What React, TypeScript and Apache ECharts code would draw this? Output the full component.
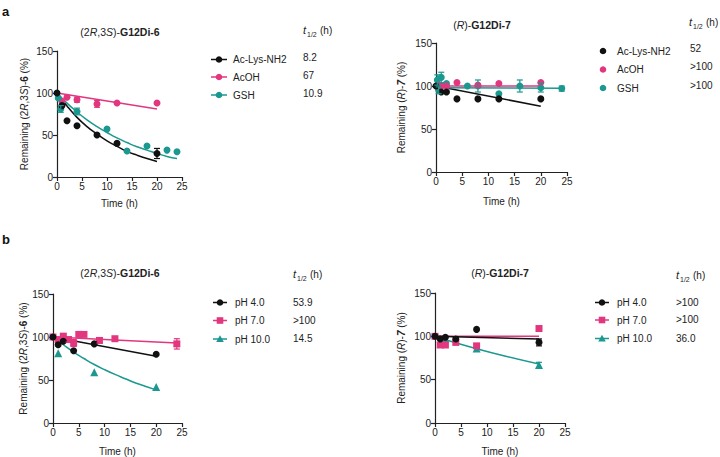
import React, { useEffect, useRef } from "react";
import * as echarts from "echarts";

const BLACK = "#111111";
const PINK = "#e2367f";
const TEAL = "#1b9890";
const FONT = "'Liberation Sans', Arial, sans-serif";

// ---------- Panel a, left: (2R,3S)-G12Di-6 ----------
const aLAcLysPts = [[0, 100], [1, 85], [2, 67], [4, 61], [8, 50], [12, 40], [20, 28]];
const aLAcLysErr = [[20, 28, 6]];
const aLAcLysFit = [[0, 100], [2, 84.5], [4, 71], [6, 60], [8, 51], [10, 43], [12, 36.5], [14, 30.5], [16, 26], [18, 22], [20, 18.5]];
const aLAcOHPts = [[1, 90], [2, 95], [4, 92], [8, 87], [12, 88], [20, 88]];
const aLAcOHErr = [[4, 92, 3], [8, 87, 4]];
const aLAcOHFit = [[0, 100], [20, 81]];
const aLGSHPts = [[0.25, 94], [0.75, 81], [4, 78], [10, 57], [14, 31], [18, 37], [22, 32], [24, 30]];
const aLGSHErr = [[0.75, 81, 4], [4, 78, 4]];
const aLGSHFit = [[0, 100], [2, 88], [4, 77.5], [6, 68], [8, 60], [10, 53], [12, 46.5], [14, 41], [16, 36], [18, 32], [20, 28], [22, 24.5], [24, 22]];

// ---------- Panel a, right: (R)-G12Di-7 ----------
const aRAcLysPts = [[0, 100], [1, 93], [2, 93], [4, 85], [8, 85], [12, 85], [20, 85]];
const aRAcLysFit = [[0, 100], [20, 76.5]];
const aRAcOHPts = [[0.5, 101], [1, 100], [2, 100], [4, 104], [8, 101], [12, 103], [20, 104]];
const aRAcOHFit = [[0.5, 100], [20, 100]];
const aRGSHPts = [[0.25, 107], [0.5, 95], [1, 110], [2, 103], [6, 100], [8, 100], [12, 91], [16, 100], [20, 98], [24, 97]];
const aRGSHErr = [[0.25, 107, 6], [0.5, 95, 4], [1, 110, 6], [8, 100, 7], [16, 100, 7], [20, 98, 5], [24, 97, 3]];
const aRGSHFit = [[0, 98], [24, 97.5]];

// ---------- Panel b, left: (2R,3S)-G12Di-6 ----------
const bLpH4Pts = [[0, 100], [1, 91], [2, 95], [4, 84], [8, 92], [20, 80]];
const bLpH4Fit = [[0, 100], [20, 77.5]];
const bLpH7Pts = [[0, 100], [1, 97], [2, 101], [3, 97], [4, 93], [5, 103], [6, 103], [9, 96], [12, 98], [24, 92]];
const bLpH7Err = [[3, 97, 3], [4, 93, 4], [9, 96, 3], [24, 92, 6]];
const bLpH7Fit = [[0, 100], [24, 93]];
const bLpH10Pts = [[1, 81], [8, 59], [20, 42]];
const bLpH10Fit = [[0, 100], [2, 91], [4, 82.5], [6, 75], [8, 68], [10, 62], [12, 56.5], [14, 51.5], [16, 46.5], [18, 42.5], [20, 38.5]];

// ---------- Panel b, right: (R)-G12Di-7 ----------
const bRpH4Pts = [[0, 100], [1, 97], [2, 99], [4, 97], [8, 108], [20, 93]];
const bRpH4Err = [[4, 97, 2], [20, 93, 4]];
const bRpH4Fit = [[0, 100], [20, 97]];
const bRpH7Pts = [[0, 100], [1, 90], [2, 90], [4, 93], [8, 89], [20, 109]];
const bRpH7Fit = [[0, 100], [20, 100]];
const bRpH10Pts = [[2, 97], [8, 86], [20, 67]];
const bRpH10Err = [[20, 67, 3]];
const bRpH10Fit = [[2, 96], [8, 85.7], [14, 76.4], [20, 68]];

// legends / half-lives
const aLabels = ["Ac-Lys-NH2", "AcOH", "GSH"];
const aLeftHalfLives = ["8.2", "67", "10.9"];
const aRightHalfLives = ["52", ">100", ">100"];
const bLabels = ["pH 4.0", "pH 7.0", "pH 10.0"];
const bLeftHalfLives = ["53.9", ">100", "14.5"];
const bRightHalfLives = [">100", ">100", "36.0"];

const xTicks = { min: 0, max: 25, interval: 5 };
const yTicks = { min: 0, max: 150, interval: 50 };

const grids = [
  { left: 57, top: 51, width: 125, height: 126 },
  { left: 436, top: 43, width: 131, height: 129 },
  { left: 53, top: 294, width: 129, height: 129 },
  { left: 435, top: 293, width: 130, height: 130 },
];

const yNames = [
  "Remaining (2{i|R},3{i|S})-{b|6} (%)",
  "Remaining ({i|R})-{bi|7} (%)",
  "Remaining (2{i|R},3{i|S})-{b|6} (%)",
  "Remaining ({i|R})-{bi|7} (%)",
];
const yGaps = [28, 30, 25, 29];
const xGaps = [21, 24, 23, 23];

function scatter(data: number[][], color: string, symbol: string, g: number, size = 7) {
  return {
    type: "scatter",
    data,
    xAxisIndex: g,
    yAxisIndex: g,
    symbol,
    symbolSize: size,
    itemStyle: { color, opacity: 1 },
    z: 4,
    silent: true,
  };
}

function fit(data: number[][], color: string, g: number) {
  return {
    type: "line",
    data,
    xAxisIndex: g,
    yAxisIndex: g,
    showSymbol: false,
    smooth: true,
    lineStyle: { color, width: 1.5 },
    z: 3,
    silent: true,
  };
}

function errs(data: number[][], color: string, g: number) {
  return {
    type: "custom",
    data,
    xAxisIndex: g,
    yAxisIndex: g,
    encode: { x: 0, y: 1 },
    z: 5,
    silent: true,
    renderItem: (params: any, api: any) => {
      const x = api.value(0);
      const y = api.value(1);
      const e = api.value(2);
      const top = api.coord([x, y + e]);
      const bot = api.coord([x, y - e]);
      const hw = 3;
      const st = { stroke: color, lineWidth: 1.2 };
      return {
        type: "group",
        children: [
          { type: "line", shape: { x1: top[0], y1: top[1], x2: bot[0], y2: bot[1] }, style: st },
          { type: "line", shape: { x1: top[0] - hw, y1: top[1], x2: top[0] + hw, y2: top[1] }, style: st },
          { type: "line", shape: { x1: bot[0] - hw, y1: bot[1], x2: bot[0] + hw, y2: bot[1] }, style: st },
        ],
      };
    },
  };
}

function txt(x: number, y: number, text: string, extra: any = {}) {
  return {
    type: "text",
    x,
    y,
    silent: true,
    style: {
      text,
      fontFamily: FONT,
      fontSize: 10,
      fill: "#222",
      align: "left",
      verticalAlign: "middle",
      ...extra,
    },
  };
}

function header(x: number, y: number) {
  return [
    txt(x, y, "t", { fontStyle: "italic", fontSize: 11 }),
    txt(x + 4, y + 4, "1/2", { fontSize: 7 }),
    txt(x + 17, y, "(h)", { fontSize: 10 }),
  ];
}

function title(cx: number, y: number, rich: string) {
  return {
    type: "text",
    x: cx,
    y,
    silent: true,
    style: {
      text: rich,
      fontFamily: FONT,
      fontSize: 10.5,
      fill: "#222",
      align: "center",
      verticalAlign: "middle",
      rich: {
        i: { fontStyle: "italic", fontSize: 10.5, fontFamily: FONT, fill: "#222" },
        b: { fontWeight: "bold", fontSize: 10.5, fontFamily: FONT, fill: "#222" },
      },
    },
  };
}

function legendSymbol(kind: string, cx: number, cy: number, color: string) {
  if (kind === "circle") return { type: "circle", shape: { cx, cy, r: 3.3 }, style: { fill: color }, silent: true };
  if (kind === "rect") return { type: "rect", shape: { x: cx - 3.3, y: cy - 3.3, width: 6.6, height: 6.6 }, style: { fill: color }, silent: true };
  return {
    type: "polygon",
    shape: { points: [[cx, cy - 3.8], [cx - 3.8, cy + 3], [cx + 3.8, cy + 3]] },
    style: { fill: color },
    silent: true,
  };
}

function legendRows(
  x1: number, x2: number, textX: number, ys: number[], labels: string[],
  colors: string[], kinds: string[], withLine: boolean, valX: number, vals: string[], valDy: number
) {
  const out: any[] = [];
  ys.forEach((y, i) => {
    if (withLine) {
      out.push({ type: "line", shape: { x1, y1: y, x2, y2: y }, style: { stroke: colors[i], lineWidth: 1.5 }, silent: true });
    }
    out.push(legendSymbol(kinds[i], (x1 + x2) / 2, y, colors[i]));
    out.push(txt(textX, y, labels[i]));
    out.push(txt(valX, y + valDy, vals[i]));
  });
  return out;
}

const COLORS = [BLACK, PINK, TEAL];

export default function App() {
  const ref = useRef<HTMLDivElement>(null);
  useEffect(() => {
    if (!ref.current) return;
    const chart = echarts.init(ref.current, undefined, { renderer: "svg" });
    const axisLine = { show: true, lineStyle: { color: "#222", width: 1.2 } };
    const axisTick = { show: true, length: 4, lineStyle: { color: "#222", width: 1.2 } };
    const axisLabel = { fontFamily: FONT, fontSize: 10, color: "#222", margin: 4 };
    const nameStyle = {
      fontFamily: FONT,
      fontSize: 10,
      color: "#222",
      rich: {
        i: { fontStyle: "italic", fontFamily: FONT, fontSize: 10, color: "#222" },
        b: { fontWeight: "bold", fontFamily: FONT, fontSize: 10, color: "#222" },
        bi: { fontWeight: "bold", fontStyle: "italic", fontFamily: FONT, fontSize: 10, color: "#222" },
      },
    };

    const graphics: any[] = [
      txt(2, 11, "a", { fontWeight: "bold", fontSize: 13, fill: "#111" }),
      txt(2, 239, "b", { fontWeight: "bold", fontSize: 13, fill: "#111" }),
      title(120, 32, "(2{i|R},3{i|S})-{b|G12Di-6}"),
      title(482, 25, "({i|R})-{b|G12Di-7}"),
      title(120, 273, "(2{i|R},3{i|S})-{b|G12Di-6}"),
      title(500, 273, "({i|R})-{b|G12Di-7}"),
      ...header(303, 30),
      ...header(689, 22),
      ...header(293, 274),
      ...header(676, 275),
      ...legendRows(211, 227, 233, [59.5, 77, 95], aLabels, COLORS, ["circle", "circle", "circle"], true, 303, aLeftHalfLives, -2),
      ...legendRows(598, 608, 617, [51, 69.5, 88], aLabels, COLORS, ["circle", "circle", "circle"], false, 690, aRightHalfLives, -3),
      ...legendRows(213, 227, 235, [302.5, 320.5, 339], bLabels, COLORS, ["circle", "rect", "triangle"], true, 293, bLeftHalfLives, -0.5),
      ...legendRows(595, 609, 617, [302.5, 320, 338.5], bLabels, COLORS, ["circle", "rect", "triangle"], true, 676, bRightHalfLives, -0.5),
    ];

    const option: any = {
      animation: false,
      backgroundColor: "#ffffff",
      grid: grids.map((g) => ({ ...g, containLabel: false })),
      xAxis: grids.map((_, i) => ({
        type: "value",
        gridIndex: i,
        ...xTicks,
        axisLine,
        axisTick,
        axisLabel,
        splitLine: { show: false },
        name: "Time (h)",
        nameLocation: "middle",
        nameGap: xGaps[i],
        nameTextStyle: { fontFamily: FONT, fontSize: 10, color: "#222" },
      })),
      yAxis: grids.map((_, i) => ({
        type: "value",
        gridIndex: i,
        ...yTicks,
        axisLine,
        axisTick,
        axisLabel,
        splitLine: { show: false },
        name: yNames[i],
        nameLocation: "middle",
        nameRotate: 90,
        nameGap: yGaps[i],
        nameTextStyle: nameStyle,
      })),
      series: [
        // a left
        fit(aLAcLysFit, BLACK, 0),
        fit(aLAcOHFit, PINK, 0),
        fit(aLGSHFit, TEAL, 0),
        scatter(aLAcOHPts, PINK, "circle", 0),
        scatter(aLGSHPts, TEAL, "circle", 0),
        scatter(aLAcLysPts, BLACK, "circle", 0),
        errs(aLAcLysErr, BLACK, 0),
        errs(aLAcOHErr, PINK, 0),
        errs(aLGSHErr, TEAL, 0),
        // a right
        fit(aRAcLysFit, BLACK, 1),
        fit(aRGSHFit, TEAL, 1),
        fit(aRAcOHFit, PINK, 1),
        scatter(aRGSHPts, TEAL, "circle", 1),
        scatter(aRAcOHPts, PINK, "circle", 1),
        scatter(aRAcLysPts, BLACK, "circle", 1),
        errs(aRGSHErr, TEAL, 1),
        // b left
        fit(bLpH4Fit, BLACK, 2),
        fit(bLpH7Fit, PINK, 2),
        fit(bLpH10Fit, TEAL, 2),
        scatter(bLpH10Pts, TEAL, "triangle", 2, 8),
        scatter(bLpH7Pts, PINK, "rect", 2),
        scatter(bLpH4Pts, BLACK, "circle", 2),
        errs(bLpH7Err, PINK, 2),
        // b right
        fit(bRpH7Fit, PINK, 3),
        fit(bRpH4Fit, BLACK, 3),
        fit(bRpH10Fit, TEAL, 3),
        scatter(bRpH10Pts, TEAL, "triangle", 3, 8),
        scatter(bRpH7Pts, PINK, "rect", 3),
        scatter(bRpH4Pts, BLACK, "circle", 3),
        errs(bRpH4Err, BLACK, 3),
        errs(bRpH10Err, TEAL, 3),
      ],
      graphic: graphics,
    };
    chart.setOption(option);
    return () => chart.dispose();
  }, []);
  return (
    <div
      ref={ref}
      style={{ position: "absolute", left: 0, top: 0, width: 720, height: 457, background: "#fff" }}
    />
  );
}
